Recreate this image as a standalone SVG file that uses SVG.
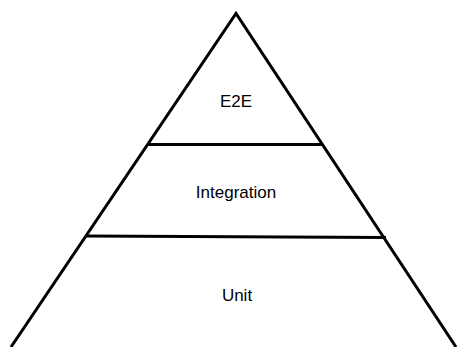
<svg xmlns="http://www.w3.org/2000/svg" width="458" height="347" viewBox="0 0 458 347">
<style>
.edge{stroke:#000;stroke-width:3;fill:none;stroke-linejoin:miter}
.lbl{font-family:"Liberation Sans",Arial,sans-serif;font-size:17px;fill:#000;text-anchor:middle}
</style>
<rect width="458" height="347" fill="#fff"/>
<g id="connectors">
<polyline class="edge" points="11,347 236,13.5 456,347"/>
<line class="edge" x1="148" y1="144.5" x2="323" y2="144.5"/>
<line class="edge" x1="86" y1="236" x2="386" y2="237.5"/>
</g>
<g id="e2e"><text class="lbl" x="236" y="107">E2E</text></g>
<g id="integration"><text class="lbl" x="236" y="198">Integration</text></g>
<g id="unit"><text class="lbl" x="237" y="300.5">Unit</text></g>
</svg>
